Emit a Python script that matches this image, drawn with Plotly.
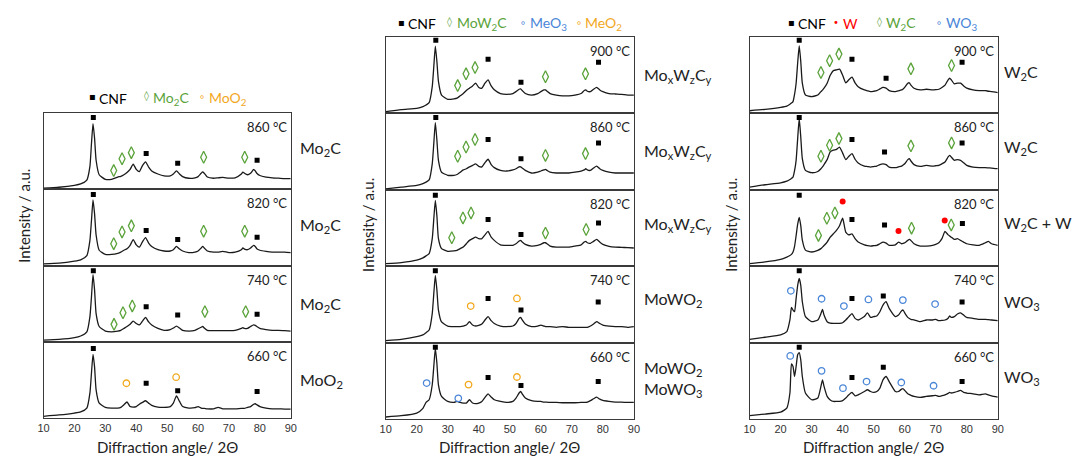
import plotly.graph_objects as go

W, H = 1072, 456

# ---------------- data (2θ in degrees, intensity in a.u. 0-100 per sub-panel) ----------------
P1_ANGLE = [10, 15, 20, 22, 24, 25, 25.5, 26, 26.5, 27, 28, 30, 32, 34, 35, 36, 37, 38, 39, 40,
            41, 42, 43, 44, 45, 47, 49, 51, 52, 53, 54, 55, 57, 59, 60, 61, 61.5, 62, 63, 65,
            66.5, 68, 70, 72, 74, 74.5, 75, 76, 77, 78, 78.5, 79, 80, 82, 84, 86, 88, 90]
MO_860 = [1.3, 2.6, 5.2, 7, 12, 30, 60, 86, 67, 38, 19, 13, 13, 16, 17, 19, 22, 26, 33, 26,
          23, 31, 36, 29, 24, 20, 17.5, 17.5, 20, 24, 20, 16.6, 14.4, 15, 16.6, 21, 22.7, 21, 16, 14.4,
          15, 15.5, 14.5, 15, 20, 22.5, 21, 19, 21, 26, 24, 21, 18, 16, 15, 14.5, 14, 14]
MO_820 = [2.2, 3, 5.7, 7.5, 13, 33, 59, 86, 68, 40, 20, 14.5, 14.5, 16, 17.6, 20, 22, 26.4, 34, 27,
          24, 31, 36.6, 29.5, 25, 20.7, 19, 19, 20.7, 25, 21.6, 19, 17, 17.6, 19, 23, 25, 23, 19, 17.6,
          17.6, 18.5, 17, 17.6, 20.7, 23, 21.6, 20.7, 23, 26.4, 25, 22, 20, 18.5, 17.6, 17.6, 17.6, 17]
MO_740 = [2.2, 3, 5.3, 7.5, 13, 33, 59, 88, 68, 37, 20, 14, 13, 14, 15, 17.5, 20, 23, 27, 24,
          22, 27, 32, 26, 22, 17.5, 15, 16, 18, 20.6, 18, 15, 14, 15, 17, 19, 20, 18, 15, 14.5,
          14.5, 14.5, 14.5, 15, 17.5, 18.4, 17.5, 17.5, 20, 22, 21.5, 20, 17.5, 16, 15, 15, 14.5, 14]
MO_660 = [2.2, 4, 6.5, 8, 13, 33, 59, 83.5, 67, 37, 19.5, 14, 13, 13, 14, 17.4, 21, 15, 14.3, 15,
          18, 20.4, 22.6, 19.5, 16.5, 14.3, 14, 15, 19.5, 29, 21.7, 15, 13, 13.5, 15, 13, 12.6, 12.6, 12, 12,
          14, 12, 12, 12, 12.6, 12.6, 12.6, 14, 15, 18, 18.7, 17.4, 15, 13, 12, 12, 11.7, 11.7]

P2_ANGLE = [10, 15, 20, 22, 23, 24, 25, 25.5, 26, 26.5, 27, 28, 30, 32, 33, 34, 35, 36, 37, 38,
            39, 40, 41, 42, 43, 44, 45, 47, 49, 51, 52, 53, 53.5, 54, 55, 57, 59, 60, 61, 61.5,
            62, 63, 65, 67, 69, 71, 73, 74, 74.5, 75, 76, 77, 78, 79, 80, 82, 84, 86, 88, 90]
MOW_900 = [2.2, 5, 6.6, 8.8, 11, 14, 35, 61, 88, 68, 42, 24, 18.4, 19, 20, 23, 26, 30, 33, 36,
           39.5, 34, 33, 39.5, 44, 36, 31, 26, 25, 26, 28.5, 31.6, 32, 30, 26, 24, 26, 28.5, 30.7, 30.7,
           29, 26, 24, 23, 23, 24, 26, 30, 30.7, 29, 28.5, 31.6, 34, 30.7, 28.5, 26, 25.4, 25, 24, 24]
MOW_860 = [1.3, 3.5, 5.7, 8, 10, 13, 34, 60.5, 88, 65, 38.6, 23, 19, 19, 20, 23, 26, 27.6, 30, 32,
           34, 30.7, 30, 35.5, 40, 33, 29, 25.4, 24.6, 26, 27.6, 30, 30, 28.5, 25.4, 22, 23, 24.6, 26, 26.7,
           25.4, 23, 22, 22, 22, 23, 24.6, 26, 27.6, 26, 25.4, 28.5, 31, 27.6, 25.4, 23, 22, 22, 22, 22]
MOW_820 = [3.5, 4.8, 7.8, 10.8, 13.5, 16.5, 36, 62, 86, 66, 36, 23, 19.5, 20, 20.8, 23, 25, 29.4, 33.8, 36,
           38, 36, 36, 41, 45.5, 38, 33.8, 28, 27.3, 27.3, 29.4, 33, 33.8, 31.6, 28.6, 26.4, 27.3, 28.6, 30.7, 30.7,
           29.4, 26.4, 25, 25, 25, 26.4, 28, 31.6, 32.5, 30.7, 30, 32.5, 35, 31.6, 28.6, 26, 25, 24.7, 24.2, 23.8]
MOW_740 = [2.6, 4.3, 7.8, 10, 13, 16.5, 38, 64, 88, 69, 42.6, 27, 21.7, 21, 21, 21, 21.7, 23, 27.4, 23,
           21.7, 22.6, 24.3, 29.6, 34, 28.7, 25, 21.7, 21, 21.7, 25, 31.7, 33, 29.6, 24.3, 21, 21.7, 23, 21.7, 21,
           21, 21, 20, 21, 20, 20, 20, 20, 20, 20, 21.7, 24.3, 27.4, 25, 23, 21.7, 21, 21, 20, 21]
MOW_660 = [2.6, 4.3, 7.8, 14, 21.7, 25.2, 44.8, 68.7, 92.6, 73, 44.8, 29.6, 23, 21.7, 23, 21.7, 20.9, 20.9, 25.2, 20.9,
           20, 20.9, 23, 28.3, 33, 28.7, 25.2, 23, 21.7, 23, 27.4, 34, 36, 33, 27.4, 24, 23, 23, 22, 22,
           22, 21.7, 21.7, 21.3, 21.3, 21.3, 21.7, 21.7, 21.7, 22, 24, 26.5, 28.7, 26, 24.3, 23, 22, 22, 21.7, 21.7]

P3_ANGLE = [10, 15, 20, 22, 23, 23.5, 24, 24.5, 25, 25.5, 26, 26.5, 27, 28, 30, 32, 33, 33.5, 34, 35,
            36, 37, 38, 39, 40, 41, 42, 43, 44, 45, 47, 48, 49, 50, 51, 52, 53, 54, 55, 57,
            58, 59, 59.5, 60, 61, 61.5, 62, 63, 65, 67, 69, 70, 71, 72, 73, 74, 74.5, 75, 76, 77,
            78, 79, 80, 82, 84, 86, 87, 88, 90]
W_900 = [3.5, 5.3, 7.9, 9.6, 12, 13.5, 15.4, 25, 39.5, 66, 88.6, 68, 39.5, 24, 22, 24, 28.5, 30.5, 33, 39.5,
         50, 56, 57, 58, 50, 40, 44, 47.4, 40, 35, 30.7, 29.5, 28.5, 29, 29.8, 32, 34, 33, 29.8, 28.5,
         29.5, 30.7, 32, 34, 39.5, 40, 37, 33, 30.7, 31.6, 30.7, 31, 31.6, 34, 37, 44, 46, 44, 38.6, 39.5,
         39.5, 36, 33, 30.7, 29.8, 29.8, 29, 28.5, 27.2]
W_860 = [3.5, 6.6, 9.2, 11.4, 13.5, 15, 16.7, 25, 38.6, 67, 93.4, 69, 40.8, 25.4, 22.4, 24, 27.6, 30, 33, 39.5,
         49.6, 51.8, 53, 56, 48, 39.5, 43.9, 47.4, 40, 35, 31, 30.4, 29.8, 30.4, 31, 33, 34, 33, 29.8, 29,
         30, 31, 32.5, 34, 39.5, 40.8, 37.7, 33, 30.7, 32, 31, 31.5, 32, 34, 36.4, 43, 45, 43, 38.6, 39.5,
         38.6, 35.5, 32, 29.8, 29, 29, 28.7, 28.5, 27.6]
W_820 = [3.5, 5.6, 9, 12, 14, 15.5, 18.6, 26, 40, 55, 64, 53, 34, 21, 18.6, 20.8, 23, 25, 27, 31.6,
         38, 42.4, 46.8, 53, 62.8, 44.6, 41, 42.4, 36, 31.6, 28, 27, 26.4, 26.8, 27.3, 29.4, 31.6, 30.3, 27.3, 28,
         31.6, 29.4, 29.8, 30.7, 33.8, 35, 33.8, 29.4, 26.4, 26.4, 27.3, 28.5, 30.7, 36, 45.5, 41, 39.5, 38, 35, 36,
         33.8, 31.6, 29.4, 28, 27.3, 30.7, 32.5, 29.4, 27.3]
W_740 = [4.3, 7, 10, 14.3, 29.6, 46, 42.6, 40.4, 57.8, 75, 84, 75, 53.5, 34, 27.4, 29.6, 38, 43.5, 36, 27.4,
         25.5, 25.2, 25.2, 25.2, 26, 29.6, 34, 38, 31.7, 29.6, 34, 39, 33, 34, 34.8, 40.4, 49, 53.5, 44.8, 34,
         36, 41.7, 42.6, 39, 33, 31.5, 30.5, 29.6, 27.4, 29.6, 29.6, 30.4, 28.7, 29, 29.6, 32, 34.8, 33, 34, 37.4,
         39, 36, 33, 31.7, 30.4, 30.4, 30, 29.6, 28.7]
W_660 = [4.3, 6.5, 9, 14.3, 34, 72, 68.7, 55.6, 68.7, 84, 87, 77.4, 55.6, 34, 25.2, 27.4, 42.6, 51.3, 42.6, 29.6,
         25, 23, 23, 23, 24, 27.4, 31.7, 34.8, 30.4, 31.7, 36, 38.3, 36, 34.8, 36, 40.4, 51.3, 55.6, 49, 36,
         36, 39, 39.6, 37.4, 33, 32, 31, 29.6, 28.3, 29.6, 30.4, 30.9, 29.6, 30.5, 31.7, 33.5, 34.8, 34, 34.8, 36,
         37.4, 34.8, 34, 33, 31.7, 33, 31.5, 30.4, 28.7]

# phase markers: (angles, heights) per sub-panel
MK_MO_860 = {"CNF": ([26.1, 43.2, 53.4, 79.1], [94, 47, 34, 38]),
             "carb": ([32.7, 35.4, 38.4, 61.8, 75.1], [24.5, 40, 48, 42, 42])}
MK_MO_820 = {"CNF": ([26.1, 43.2, 53.4, 79.1], [93, 46, 34, 37]),
             "carb": ([32.7, 35.4, 38.4, 61.8, 75.1], [28.6, 44, 52, 45, 45])}
MK_MO_740 = {"CNF": ([26.1, 43.2, 53.4, 79.1], [93, 46, 35, 36]),
             "carb": ([32.8, 35.7, 38.7, 62.2, 75.4], [22.8, 38, 47, 39.5, 39.5])}
MK_MO_660 = {"CNF": ([26.1, 43.2, 53.4, 79.1], [91, 45.6, 35.6, 34.8]),
             "ox2": ([36.8, 52.9], [45.6, 53.5])}

MK_MOW_900 = {"CNF": ([26.15, 43, 53.6, 78.6], [95.6, 71, 40.8, 67]),
              "carb": ([33.2, 35.9, 38.8, 61.5, 74.4], [36.4, 51.8, 60, 48, 51.8])}
MK_MOW_860 = {"CNF": ([26.15, 43, 53.6, 78.6], [94.7, 65.8, 40.8, 61.4]),
              "carb": ([33.2, 35.9, 38.8, 61.5, 74.4], [43.9, 56, 65.8, 45, 47.4])}
MK_MOW_820 = {"CNF": ([26, 43, 53.6, 78.6], [93, 61, 41.6, 56.7]),
              "carb": ([31.3, 34.9, 37.5, 61.5, 74.6], [37.2, 63.2, 69.7, 43.3, 48])}
MK_MOW_740 = {"CNF": ([26, 43, 53.6, 78.5], [94, 57.8, 42.6, 53]),
              "ox2": ([37.4, 52.3], [47.8, 57.8])}
MK_MOW_660 = {"CNF": ([26, 43, 53.6, 78.5], [94, 54.3, 44, 49]),
              "ox2": ([36.7, 52.3], [45, 55]),
              "ox3": ([23.2, 33.4], [47, 27])}

MK_W_900 = {"CNF": ([26, 43, 54, 78.5], [95.6, 71, 46, 67]),
            "carb": ([33, 35.8, 38.8, 62, 75.1], [53.5, 69, 77.6, 58.3, 62.7])}
MK_W_860 = {"CNF": ([26, 43, 53.5, 78.5], [94.7, 65.8, 49.6, 61.4]),
            "carb": ([33, 35.8, 38.8, 62, 75.1], [43.9, 58.3, 67, 57.5, 61.4])}
MK_W_820 = {"CNF": ([26, 43, 53.5, 78.6], [93, 61, 54, 56]),
            "met": ([40, 58, 72.9], [84.8, 46, 59.7]),
            "carb": ([32.2, 34.9, 37.5, 62.2, 75], [40.3, 62.8, 69.7, 49.8, 54])}
MK_W_740 = {"CNF": ([26, 43, 53.1, 78.5], [94, 57.8, 61, 53]),
            "ox3": ([23.3, 33.2, 40.4, 48.3, 59.4, 69.8], [67.8, 57.4, 47.8, 56.5, 55.6, 50.4])}
MK_W_660 = {"CNF": ([26, 43, 53.1, 78.5], [94, 54.3, 67.8, 49]),
            "ox3": ([23.1, 33.2, 40.1, 47.7, 58.9, 69.3], [82.6, 63, 40.4, 49, 47.8, 43.5])}

TICKS = [10, 20, 30, 40, 50, 60, 70, 80, 90]

# ---------------- styles ----------------
FONT = "Lato, 'Open Sans', sans-serif"
GREEN, ORANGE, BLUE, RED = "#5BA33B", "#F2A81D", "#4A86D8", "#FF0000"
MSTYLE = {
    "CNF": dict(symbol="square", size=5, color="black", line=dict(width=0)),
    "carb": dict(symbol="diamond-tall-open", size=8.5, color=GREEN, line=dict(color=GREEN, width=1.3)),
    "ox2": dict(symbol="circle-open", size=6.5, color=ORANGE, line=dict(color=ORANGE, width=1.3)),
    "ox3": dict(symbol="circle-open", size=6.5, color=BLUE, line=dict(color=BLUE, width=1.3)),
    "met": dict(symbol="circle", size=6, color=RED, line=dict(width=0)),
}

PANELS = [
    dict(x0=38, x1=288, top=113, bottom=418, label_x=295,
         subs=[("860 °C", P1_ANGLE, MO_860, MK_MO_860, "Mo<sub>2</sub>C", 148),
               ("820 °C", P1_ANGLE, MO_820, MK_MO_820, "Mo<sub>2</sub>C", 225),
               ("740 °C", P1_ANGLE, MO_740, MK_MO_740, "Mo<sub>2</sub>C", 304),
               ("660 °C", P1_ANGLE, MO_660, MK_MO_660, "MoO<sub>2</sub>", 380)],
         ytitle_y=216, ytitle_x=18,
         legend=[("▪", "black", 87, "CNF"), ("◊", GREEN, 142, "Mo<sub>2</sub>C"), ("∘", ORANGE, 198, "MoO<sub>2</sub>")],
         legend_y=96),
    dict(x0=384, x1=635, top=37, bottom=419, label_x=643,
         subs=[("900 °C", P2_ANGLE, MOW_900, MK_MOW_900, "Mo<sub>x</sub>W<sub>z</sub>C<sub>y</sub>", 76),
               ("860 °C", P2_ANGLE, MOW_860, MK_MOW_860, "Mo<sub>x</sub>W<sub>z</sub>C<sub>y</sub>", 151),
               ("820 °C", P2_ANGLE, MOW_820, MK_MOW_820, "Mo<sub>x</sub>W<sub>z</sub>C<sub>y</sub>", 224),
               ("740 °C", P2_ANGLE, MOW_740, MK_MOW_740, "MoWO<sub>2</sub>", 299),
               ("660 °C", P2_ANGLE, MOW_660, MK_MOW_660, "MoWO<sub>2</sub><br>MoWO<sub>3</sub>", 379)],
         ytitle_y=225, ytitle_x=366,
         legend=[("▪", "black", 400, "CNF"), ("◊", GREEN, 449, "MoW<sub>2</sub>C"),
                 ("∘", BLUE, 523, "MeO<sub>3</sub>"), ("∘", ORANGE, 579, "MeO<sub>2</sub>")],
         legend_y=22),
    dict(x0=752, x1=1003, top=37, bottom=419, label_x=1007,
         subs=[("900 °C", P3_ANGLE, W_900, MK_W_900, "W<sub>2</sub>C", 72),
               ("860 °C", P3_ANGLE, W_860, MK_W_860, "W<sub>2</sub>C", 147),
               ("820 °C", P3_ANGLE, W_820, MK_W_820, "W<sub>2</sub>C + W", 223),
               ("740 °C", P3_ANGLE, W_740, MK_W_740, "WO<sub>3</sub>", 302),
               ("660 °C", P3_ANGLE, W_660, MK_W_660, "WO<sub>3</sub>", 377)],
         ytitle_y=225, ytitle_x=733,
         legend=[("▪", "black", 794, "CNF"), ("•", RED, 839, "W"), ("◊", GREEN, 883, "W<sub>2</sub>C"),
                 ("∘", BLUE, 944, "WO<sub>3</sub>")],
         legend_y=22),
]

fig = go.Figure()
axes = {}
ann = []
n = 0


def px(xp):
    return xp / W


def py(yp):
    return 1 - yp / H


for P in PANELS:
    nsub = len(P["subs"])
    step = (P["bottom"] - P["top"]) / nsub
    for k, (temp, ang, vals, marks, lab, lab_y) in enumerate(P["subs"]):
        n += 1
        xa, ya = ("x", "y") if n == 1 else (f"x{n}", f"y{n}")
        xk, yk = ("xaxis", "yaxis") if n == 1 else (f"xaxis{n}", f"yaxis{n}")
        top = P["top"] + k * step
        bot = top + step
        is_bottom = (k == nsub - 1)
        axes[xk] = dict(domain=[px(P["x0"]), px(P["x1"])], range=[10, 90], anchor=ya,
                        showline=True, mirror=True, linecolor="#3a3a3a", linewidth=1,
                        showgrid=False, zeroline=False, ticks="",
                        showticklabels=is_bottom, tickvals=TICKS,
                        tickfont=dict(family="'Liberation Sans', Arial", size=11, color="#333"))
        axes[yk] = dict(domain=[py(bot), py(top)], range=[0, 100], anchor=xa,
                        showline=True, mirror=True, linecolor="#3a3a3a", linewidth=1,
                        showgrid=False, zeroline=False, showticklabels=False, ticks="")
        fig.add_trace(go.Scatter(x=ang, y=vals, xaxis=xa, yaxis=ya, mode="lines",
                                 line=dict(color="#1a1a1a", width=1.3, shape="spline", smoothing=0.5),
                                 showlegend=False, hoverinfo="skip"))
        for key, (mx, my) in marks.items():
            fig.add_trace(go.Scatter(x=mx, y=my, xaxis=xa, yaxis=ya, mode="markers",
                                     marker=MSTYLE[key], showlegend=False, hoverinfo="skip"))
        ann.append(dict(text=temp, x=px(P["x1"] - 2), y=py(top + 14), xref="paper", yref="paper",
                        xanchor="right", yanchor="middle", showarrow=False,
                        font=dict(family=FONT, size=13, color="#222")))
        ann.append(dict(text=lab, x=px(P["label_x"]), y=py(lab_y), xref="paper", yref="paper",
                        xanchor="left", yanchor="middle", showarrow=False, align="left",
                        font=dict(family=FONT, size=16, color="#222")))
    # axis titles
    ann.append(dict(text="Diffraction angle/ 2Θ", x=px((P["x0"] + P["x1"]) / 2), y=py(447),
                    xref="paper", yref="paper", xanchor="center", yanchor="middle", showarrow=False,
                    font=dict(family=FONT, size=15, color="#222")))
    ann.append(dict(text="Intensity / a.u.", x=px(P["ytitle_x"]), y=py(P["ytitle_y"]), textangle=-90,
                    xref="paper", yref="paper", xanchor="center", yanchor="middle", showarrow=False,
                    font=dict(family=FONT, size=15, color="#222")))
    # legend
    for sym, col, sx, txt in P["legend"]:
        ann.append(dict(text=sym, x=px(sx), y=py(P["legend_y"]), xref="paper", yref="paper",
                        xanchor="center", yanchor="middle", showarrow=False,
                        font=dict(family="DejaVu Sans", size=10, color=col)))
        ann.append(dict(text=txt, x=px(sx + 5), y=py(P["legend_y"] + 2), xref="paper", yref="paper",
                        xanchor="left", yanchor="middle", showarrow=False,
                        font=dict(family=FONT, size=14, color=col)))

fig.update_layout(width=W, height=H, margin=dict(l=0, r=0, t=0, b=0),
                  paper_bgcolor="white", plot_bgcolor="white", annotations=ann, **axes)
fig.write_html("out.html")
